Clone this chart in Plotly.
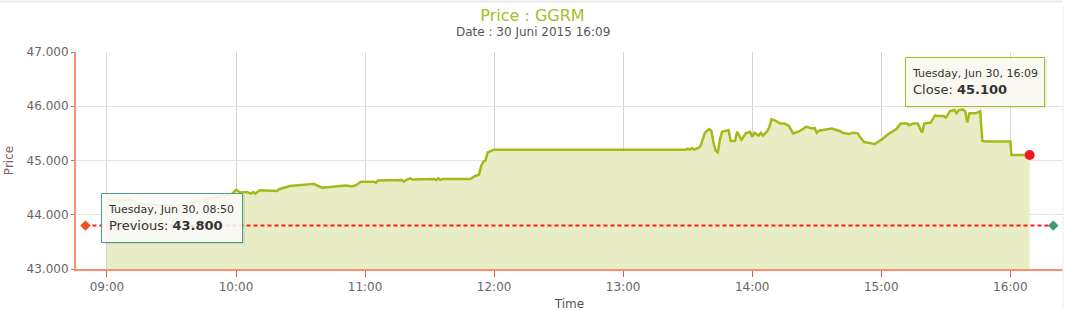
import plotly.graph_objects as go

DAY = "2015-06-30 "

# ---- data ----
times = [
    "09:00", "09:12", "09:13", "09:23", "09:32", "09:45", "09:58",
    "10:00", "10:02", "10:05", "10:07", "10:08", "10:09", "10:11", "10:19", "10:20", "10:25",
    "10:34", "10:36", "10:40", "10:51", "10:54", "10:56", "10:58", "11:04", "11:05", "11:06",
    "11:17", "11:18", "11:19", "11:21", "11:22", "11:32", "11:33", "11:34", "11:35", "11:36",
    "11:49", "11:51", "11:53", "11:54", "11:55", "11:56", "11:57", "11:59", "12:00",
    "13:29", "13:30", "13:31", "13:32", "13:33", "13:35", "13:36", "13:38", "13:40", "13:41",
    "13:42", "13:43", "13:44", "13:45", "13:46", "13:49", "13:50", "13:52", "13:53", "13:55",
    "13:57", "13:59", "14:00", "14:01", "14:03", "14:04", "14:05", "14:07", "14:08", "14:09",
    "14:11", "14:13", "14:15", "14:17", "14:19", "14:22", "14:24", "14:25", "14:28", "14:29",
    "14:30", "14:31", "14:37", "14:41", "14:42", "14:45", "14:47", "14:49", "14:50", "14:52",
    "14:55", "14:57", "14:59", "15:00", "15:03", "15:07", "15:09", "15:12", "15:13", "15:15",
    "15:17", "15:19", "15:20", "15:23", "15:25", "15:26", "15:29", "15:30", "15:32", "15:34",
    "15:35", "15:36", "15:38", "15:39", "15:40", "15:41", "15:44", "15:46", "15:47", "15:49",
    "16:00:00", "16:00:30", "16:09",
]
prices = [
    44270, 44270, 44200, 44180, 44150, 44280, 44380,
    44460, 44410, 44420, 44390, 44420, 44390, 44450, 44440, 44470, 44530,
    44560, 44570, 44500, 44540, 44520, 44550, 44610, 44610, 44590, 44630,
    44640, 44610, 44640, 44670, 44650, 44660, 44640, 44670, 44640, 44660,
    44660, 44710, 44740, 44900, 44980, 45000, 45150, 45180, 45200,
    45200, 45220, 45200, 45230, 45200, 45230, 45270, 45510, 45580, 45550,
    45330, 45180, 45150, 45390, 45530, 45560, 45360, 45360, 45530, 45380,
    45500, 45530, 45440, 45510, 45460, 45510, 45460, 45540, 45620, 45760,
    45730, 45680, 45680, 45640, 45500, 45540, 45590, 45620, 45590, 45600,
    45510, 45550, 45590, 45540, 45510, 45490, 45510, 45500, 45440, 45340,
    45320, 45300, 45360, 45380, 45480, 45580, 45680, 45680, 45650, 45680,
    45680, 45510, 45680, 45700, 45830, 45820, 45820, 45790, 45910, 45930,
    45870, 45930, 45940, 45910, 45700, 45870, 45870, 45910, 45360, 45350,
    45350, 45100, 45100,
]
prev_times = ["08:50", "16:20"]
prev_close = 43800
close_time = "16:09"
close_price = 45100
y_ticks = [43000, 44000, 45000, 46000, 47000]

x_full = [DAY + t for t in times]

LINE = "#a6b91a"
FILL = "#e8edc6"

fig = go.Figure()

# area
fig.add_trace(go.Scatter(
    x=x_full, y=prices, mode="lines",
    line=dict(color=LINE, width=2.5),
    fill="tozeroy", fillcolor=FILL,
    hoverinfo="skip", showlegend=False,
))

# previous close dashed line
fig.add_trace(go.Scatter(
    x=[DAY + t for t in prev_times], y=[prev_close] * 2, mode="lines",
    line=dict(color="#ff1a1a", width=2, dash="4px,3px"),
    hoverinfo="skip", showlegend=False,
))
fig.add_trace(go.Scatter(
    x=[DAY + t for t in prev_times], y=[prev_close] * 2, mode="markers",
    marker=dict(symbol="diamond", size=8, color=["#f4511e", "#3d9a74"]),
    hoverinfo="skip", showlegend=False,
))

# last close point
fig.add_trace(go.Scatter(
    x=[DAY + close_time], y=[close_price], mode="markers",
    marker=dict(symbol="circle", size=10, color="#ee1c1c"),
    hoverinfo="skip", showlegend=False,
))

L, R, T, B = 76, 2, 52, 40
W, H = 1065, 311
pw, ph = W - L - R, H - T - B


def px(x):
    return (x - L) / pw


def py(y):
    return (H - B - y) / ph


font_fam = "DejaVu Sans, Verdana, sans-serif"

fig.update_layout(
    width=W, height=H,
    margin=dict(l=L, r=R, t=T, b=B),
    paper_bgcolor="white", plot_bgcolor="white",
    separators=",.",
    font=dict(family=font_fam, color="#666666", size=12),
    showlegend=False,
    hovermode=False,
    xaxis=dict(
        type="date",
        range=[DAY + "08:45:36", DAY + "16:24:30"],
        tickformat="%H:%M",
        dtick=3600000,
        tick0=DAY + "09:00",
        showgrid=True, gridcolor="#d6d6d6", gridwidth=1,
        showline=True, linecolor="#f99070", linewidth=2,
        ticks="outside", ticklen=6, tickcolor="#e8504a", tickwidth=1,
        tickfont=dict(size=12, color="#666666"),
        zeroline=False,
        title=dict(text="Time", font=dict(size=12, color="#555555"), standoff=6),
    ),
    yaxis=dict(
        range=[43000, 47000],
        tickvals=y_ticks,
        tickformat=",d",
        showgrid=True, gridcolor="#e3e3e3", gridwidth=1,
        showline=True, linecolor="#f99070", linewidth=2,
        ticks="outside", ticklen=3, tickcolor="#888888",
        tickfont=dict(size=12, color="#666666"),
        zeroline=False,
        title=dict(text="Price", font=dict(size=12, color="#7d6464"), standoff=10),
    ),
    title=dict(
        text="Price : GGRM",
        font=dict(size=16, color="#a9bd1f", family=font_fam),
        x=0.5, xref="container", xanchor="center",
        y=1 - 15 / H, yref="container", yanchor="middle",
    ),
)

# subtitle
fig.add_annotation(
    text="Date : 30 Juni 2015 16:09",
    xref="paper", yref="paper",
    x=px(W / 2), y=py(32), xanchor="center", yanchor="middle",
    showarrow=False, font=dict(size=12, color="#555555", family=font_fam),
)

# tooltip shadows
for (x0, y0, x1, y1) in [(101, 194, 243, 244), (905, 57, 1045, 107)]:
    fig.add_shape(type="rect", xref="paper", yref="paper",
                  x0=px(x0 + 2), x1=px(x1 + 2), y0=py(y0 + 2), y1=py(y1 + 2),
                  line=dict(width=0), fillcolor="rgba(0,0,0,0.08)")

# tooltip: previous
fig.add_annotation(
    text='<span style="font-size:11px">Tuesday, Jun 30, 08:50</span><br>Previous: <b>43.800</b>',
    xref="paper", yref="paper",
    x=px(101), y=py(194), xanchor="left", yanchor="top",
    showarrow=False, align="left", valign="middle",
    width=128, height=36, borderpad=6, borderwidth=1,
    bordercolor="#4c9e80", bgcolor="rgba(253,253,250,0.88)",
    font=dict(size=13, color="#333333", family=font_fam),
)

# tooltip: close
fig.add_annotation(
    text='<span style="font-size:11px">Tuesday, Jun 30, 16:09</span><br>Close: <b>45.100</b>',
    xref="paper", yref="paper",
    x=px(905), y=py(57), xanchor="left", yanchor="top",
    showarrow=False, align="left", valign="middle",
    width=126, height=36, borderpad=6, borderwidth=1,
    bordercolor="#a9bd1f", bgcolor="rgba(251,251,242,0.9)",
    font=dict(size=13, color="#333333", family=font_fam),
)

# outer container border (top and right)
fig.add_shape(type="line", xref="paper", yref="paper",
              x0=px(0), x1=px(1062), y0=py(1), y1=py(1),
              line=dict(color="#e8e8e8", width=2))
fig.add_shape(type="line", xref="paper", yref="paper",
              x0=px(1063), x1=px(1063), y0=py(6), y1=py(311),
              line=dict(color="#ececec", width=1))

fig.write_html("out.html", config={"displayModeBar": False})
